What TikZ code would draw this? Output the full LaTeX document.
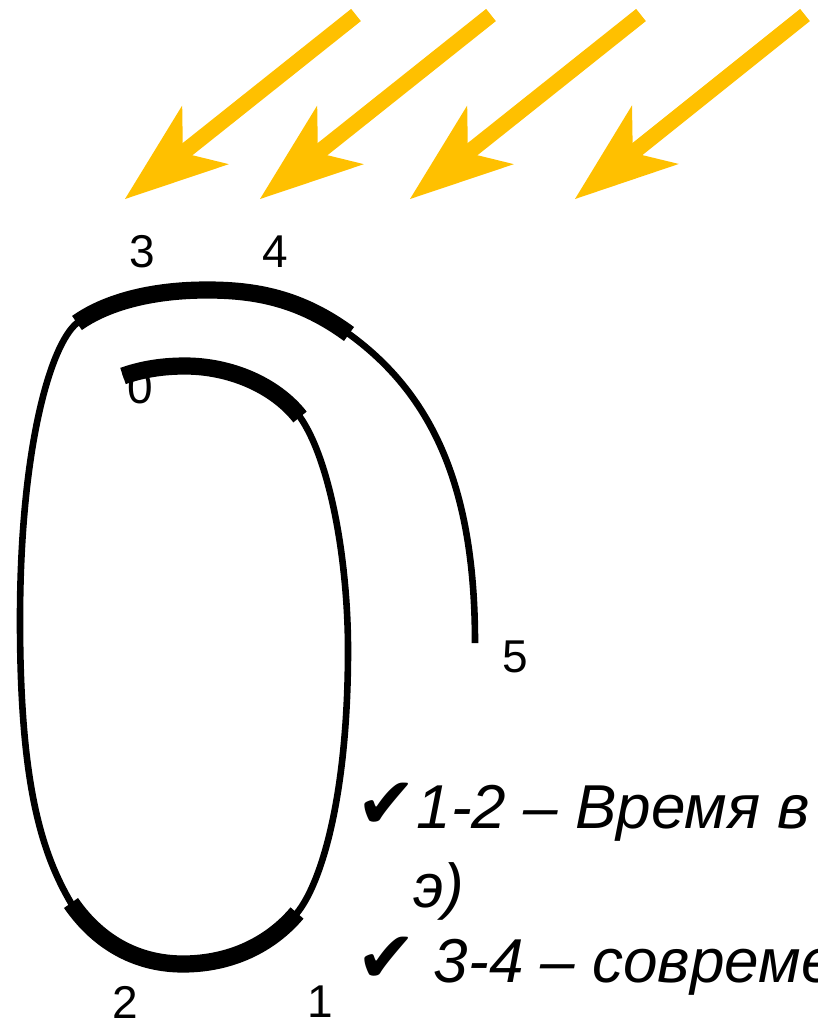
\documentclass[tikz,border=0pt]{standalone}
\usepackage{fontspec}
\setmainfont{Liberation Sans}
\newfontfamily\symfont{DejaVu Sans}
\usetikzlibrary{arrows.meta}
\definecolor{sun}{HTML}{FFC000}
\tikzset{
  ray/.style={sun, line width=7.8pt, -{Stealth[length=51.5pt, width=37.5pt, inset=14.5pt, line width=0pt]}},
  track/.style={line width=3.3pt},
  phase/.style={line width=8.6pt},
  numlab/.style={font=\fontsize{23}{27}\selectfont, inner sep=0pt},
  note/.style={font=\fontsize{31}{37}\selectfont\itshape, anchor=base west, inner sep=0pt},
}
\newcommand{\tick}{{\symfont\upshape\fontsize{36}{36}\selectfont ✔}}

\begin{document}
\begin{tikzpicture}[x=0.5pt,y=-0.5pt]
  \useasboundingbox (0,0) rectangle (818,1030);
  \clip (0,0) rectangle (818,1030);

  % sun rays
  \foreach \tx/\hx [count=\i] in {356/125, 491/260, 641/410, 805/575} {
    \coordinate (ray\i-a) at (\tx,15);
    \coordinate (ray\i-b) at (\hx,199);
    \draw[ray] (ray\i-a) -- (ray\i-b);
  }

  % point labels
  \node[numlab] (n3) at (142,252) {3};
  \node[numlab] (n4) at (275,252) {4};
  \node[numlab] (n0) at (140,388) {0};
  \node[numlab] (n5) at (515,657) {5};
  \node[numlab] (n2) at (125,1002) {2};
  \node[numlab] (n1) at (320,1002) {1};

  % track of the year
  \coordinate (p5) at (475,643);
  \coordinate (p4) at (349,334);
  \coordinate (top) at (207,290);
  \coordinate (p3) at (77,323);
  \coordinate (left) at (20,620);
  \coordinate (p2) at (71,903);
  \coordinate (bot) at (183,964);
  \coordinate (p1) at (297,913);
  \coordinate (right) at (348,650);
  \coordinate (q0) at (300,417);
  \coordinate (in) at (185,366);
  \coordinate (p0) at (123,376);

  \draw[track] (p5) .. controls (475,500) and (440,400) .. (p4)
    .. controls (300,298) and (255,290) .. (top)
    .. controls (150,290) and (105,303) .. (p3)
    .. controls (50,345) and (20,450) .. (left)
    .. controls (20,780) and (40,850) .. (p2)
    .. controls (100,945) and (140,964) .. (bot)
    .. controls (230,964) and (270,945) .. (p1)
    .. controls (320,885) and (348,800) .. (right)
    .. controls (348,560) and (330,460) .. (q0)
    .. controls (275,385) and (230,366) .. (in)
    .. controls (160,366) and (140,370) .. (p0);

  % marked stretches
  \draw[phase] (p4) .. controls (300,298) and (255,290) .. (top)
    .. controls (150,290) and (105,303) .. (p3);
  \draw[phase] (p2) .. controls (100,945) and (140,964) .. (bot)
    .. controls (230,964) and (270,945) .. (p1);
  \draw[phase] (q0) .. controls (275,385) and (230,366) .. (in)
    .. controls (160,366) and (140,370) .. (p0);

  % notes
  \node[note] (note12) at (356,828) {\tick1-2 – Время в};
  \node[note] (note12b) at (413,907) {э)};
  \node[note] (note34) at (356,982) {\tick\ 3-4 – совреме};
\end{tikzpicture}
\end{document}
